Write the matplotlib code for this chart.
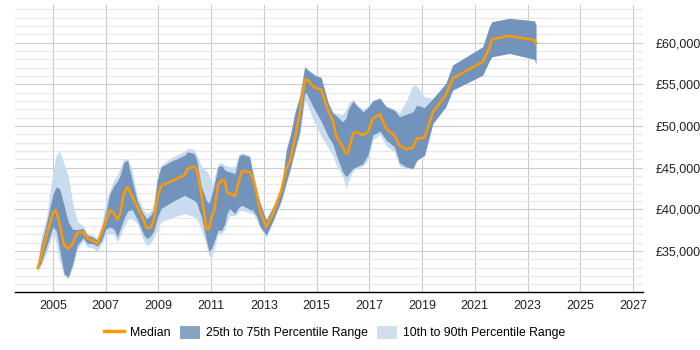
import matplotlib
matplotlib.use("Agg")
import matplotlib.pyplot as plt
from matplotlib.patches import Patch
from matplotlib.lines import Line2D
from matplotlib.ticker import MultipleLocator, FuncFormatter

plt.rcParams['font.family'] = ['Liberation Sans', 'DejaVu Sans']

# time points (decimal years)
years = [2004.42, 2004.55, 2004.75, 2005.0, 2005.12, 2005.25, 2005.42, 2005.58, 2005.75, 2005.92,
         2006.15, 2006.3, 2006.5, 2006.68, 2006.85, 2007.0, 2007.15, 2007.3, 2007.45, 2007.55,
         2007.68, 2007.83, 2008.0, 2008.2, 2008.42, 2008.55, 2008.7, 2008.82, 2008.95, 2009.1,
         2009.5, 2010.0, 2010.1, 2010.35, 2010.45, 2010.63, 2010.82, 2010.92, 2011.02, 2011.12,
         2011.26, 2011.4, 2011.52, 2011.6, 2011.7, 2011.9, 2012.06, 2012.17, 2012.46, 2012.58,
         2012.72, 2012.85, 2013.09, 2013.35, 2013.66, 2013.85, 2014.0, 2014.18, 2014.36, 2014.55,
         2014.63, 2014.92, 2015.17, 2015.43, 2015.61, 2015.75, 2015.99, 2016.12, 2016.2, 2016.38,
         2016.5, 2016.76, 2016.95, 2017.13, 2017.4, 2017.64, 2017.95, 2018.14, 2018.4, 2018.65,
         2018.8, 2019.09, 2019.41, 2019.9, 2020.16, 2021.3, 2021.55, 2021.65, 2022.31, 2023.26,
         2023.32]

# values in £k
median = [33.0, 34.3, 36.8, 39.6, 39.9, 38.3, 35.7, 35.3, 35.9, 37.2,
          37.3, 36.5, 36.3, 35.9, 37.3, 38.5, 39.9, 39.6, 38.8, 39.5,
          41.8, 42.7, 41.6, 40.3, 38.9, 37.8, 37.8, 38.6, 41.3, 42.8,
          43.4, 44.1, 44.9, 45.1, 44.9, 41.9, 37.6, 37.6, 39.1, 39.9,
          42.9, 43.5, 43.5, 42.0, 41.9, 41.6, 43.5, 44.6, 44.5, 43.8,
          42.0, 39.9, 37.9, 39.5, 42.3, 44.9, 45.9, 48.5, 51.5, 55.5,
          55.6, 54.6, 54.4, 51.9, 50.7, 48.7, 47.5, 46.7, 46.9, 49.1,
          49.3, 48.9, 49.3, 50.9, 51.4, 49.7, 48.9, 47.7, 47.2, 47.4,
          48.5, 48.6, 51.7, 53.7, 55.7, 57.7, 59.3, 60.4, 60.8, 60.3,
          59.9]

p25 = [32.8, 33.6, 35.5, 37.9, 37.5, 35.3, 32.3, 31.9, 33.5, 35.7,
       36.6, 35.9, 35.9, 35.6, 36.3, 37.6, 37.9, 37.7, 36.7, 37.6,
       38.8, 39.8, 40.0, 38.8, 37.1, 36.5, 36.8, 37.4, 38.9, 40.1,
       40.9, 41.7, 41.5, 41.1, 40.8, 39.1, 36.3, 34.9, 35.4, 36.2,
       37.5, 37.5, 38.3, 39.5, 40.1, 39.5, 40.3, 40.5, 40.0, 39.9,
       39.2, 38.0, 36.9, 38.7, 41.1, 43.3, 44.9, 47.2, 49.3, 54.0,
       53.8, 52.0, 50.6, 48.8, 47.9, 46.5, 44.5, 43.9, 44.2, 44.9,
       45.1, 45.5, 46.6, 48.9, 49.4, 48.3, 47.5, 45.6, 45.1, 44.9,
       45.9, 46.5, 50.3, 52.3, 54.3, 56.1, 57.8, 58.3, 58.7, 58.0,
       57.5]

p75 = [33.4, 35.7, 38.3, 41.8, 42.7, 42.5, 40.5, 38.5, 37.6, 37.6,
       37.7, 36.9, 36.7, 36.3, 37.8, 39.6, 41.8, 42.8, 43.4, 44.1,
       45.6, 45.9, 43.5, 41.0, 39.5, 38.9, 39.3, 40.0, 43.5, 45.1,
       45.8, 46.5, 46.9, 46.7, 46.0, 42.7, 41.1, 40.7, 41.8, 43.0,
       45.1, 45.3, 44.7, 44.6, 44.5, 44.3, 46.4, 46.6, 46.3, 44.3,
       42.3, 40.8, 38.7, 40.3, 42.5, 47.1, 48.8, 51.6, 53.5, 57.1,
       56.8, 56.1, 55.8, 52.8, 51.6, 51.2, 50.5, 51.0, 52.0, 53.0,
       52.5, 51.7, 52.2, 53.0, 53.3, 52.3, 51.9, 51.1, 51.4, 51.7,
       52.5, 52.2, 53.3, 55.1, 57.3, 59.5, 61.9, 62.5, 62.9, 62.6,
       62.1]

p10 = [32.5, 33.3, 34.7, 37.2, 36.0, 33.8, 32.0, 31.7, 33.0, 35.2,
       36.3, 35.5, 35.4, 34.9, 35.9, 37.0, 37.1, 37.0, 36.1, 36.8,
       37.8, 38.8, 38.9, 38.3, 36.4, 35.7, 35.9, 36.6, 37.6, 38.5,
       39.0, 39.5, 39.4, 39.1, 38.8, 37.6, 35.6, 34.4, 34.3, 35.3,
       37.1, 37.1, 37.6, 38.5, 39.3, 39.2, 39.8, 39.9, 39.6, 39.5,
       38.8, 37.8, 36.7, 38.5, 40.9, 43.0, 44.6, 46.9, 49.0, 53.0,
       52.7, 50.4, 48.8, 47.4, 46.5, 45.3, 43.9, 42.5, 43.3, 44.6,
       44.9, 45.2, 45.9, 48.3, 49.0, 47.6, 46.9, 45.2, 44.9, 44.8,
       45.8, 46.4, 50.3, 52.3, 54.3, 56.1, 57.8, 58.3, 58.7, 58.0,
       57.5]

p90 = [33.7, 36.7, 39.0, 44.5, 46.5, 47.0, 45.5, 44.0, 40.8, 38.6,
       38.0, 37.2, 36.9, 36.6, 38.3, 40.8, 42.3, 43.5, 44.2, 45.0,
       46.0, 46.1, 44.7, 41.6, 40.0, 39.5, 39.8, 40.8, 43.8, 45.3,
       46.2, 47.0, 47.3, 47.2, 46.6, 45.2, 44.6, 44.2, 42.9, 43.8,
       45.5, 45.6, 45.3, 45.2, 45.1, 45.1, 46.6, 46.8, 46.5, 44.6,
       42.6, 41.0, 38.9, 40.5, 42.7, 47.3, 49.0, 51.8, 53.7, 57.2,
       56.9, 56.2, 55.9, 53.0, 51.7, 51.5, 51.4, 52.0, 52.7, 53.2,
       52.7, 52.0, 52.4, 53.1, 53.4, 52.4, 52.0, 51.6, 53.0, 54.9,
       54.8, 53.5, 53.3, 55.1, 57.3, 59.5, 61.9, 62.5, 62.9, 62.6,
       62.1]

k = lambda s: [v * 1000 for v in s]

fig = plt.figure(figsize=(7, 3.5), dpi=100)
ax = fig.add_axes([0.0214, 0.1657, 0.8972, 0.82])

light = '#c9dbee'
dark = '#7294bc'
orange = '#ff9900'

ax.fill_between(years, k(p10), k(p90), color=light, lw=0, zorder=2)
ax.fill_between(years, k(p25), k(p75), color=dark, lw=0, zorder=3)
ax.plot(years, k(median), color=orange, lw=1.8, zorder=4)

ax.set_xlim(2003.56, 2027.38)
ax.set_ylim(30100, 64500)
ax.set_xticks(range(2005, 2028, 2))
ax.yaxis.set_major_locator(MultipleLocator(5000))
ax.yaxis.set_minor_locator(MultipleLocator(1000))
ax.yaxis.set_major_formatter(FuncFormatter(lambda v, p: f'£{int(v):,}'))
ax.yaxis.tick_right()

ax.grid(axis='x', color='#cccccc', lw=0.8, zorder=0)
ax.grid(axis='y', which='major', color='#cccccc', lw=0.8, zorder=0)
ax.grid(axis='y', which='minor', color='#e8e8e8', lw=0.8, zorder=0)
ax.set_axisbelow(True)

for s in ['top', 'left', 'right']:
    ax.spines[s].set_visible(False)
ax.spines['bottom'].set_color('black')
ax.spines['bottom'].set_linewidth(1)
ax.tick_params(axis='both', which='both', length=0, labelsize=9, colors='#222222')
ax.tick_params(axis='y', pad=9)
ax.tick_params(axis='x', pad=6)

handles = [Line2D([0], [0], color=orange, lw=2.5),
           Patch(facecolor='#87a3c4', edgecolor='none'),
           Patch(facecolor='#d0dfee', edgecolor='none')]
labels = ['Median', '25th to 75th Percentile Range', '10th to 90th Percentile Range']
fig.legend(handles, labels, loc='center', bbox_to_anchor=(0.478, 0.05), ncol=3,
           frameon=False, fontsize=8.8, handlelength=1.6, handleheight=1.3,
           columnspacing=0.8, handletextpad=0.5)

fig.savefig('out.png', dpi=100)
